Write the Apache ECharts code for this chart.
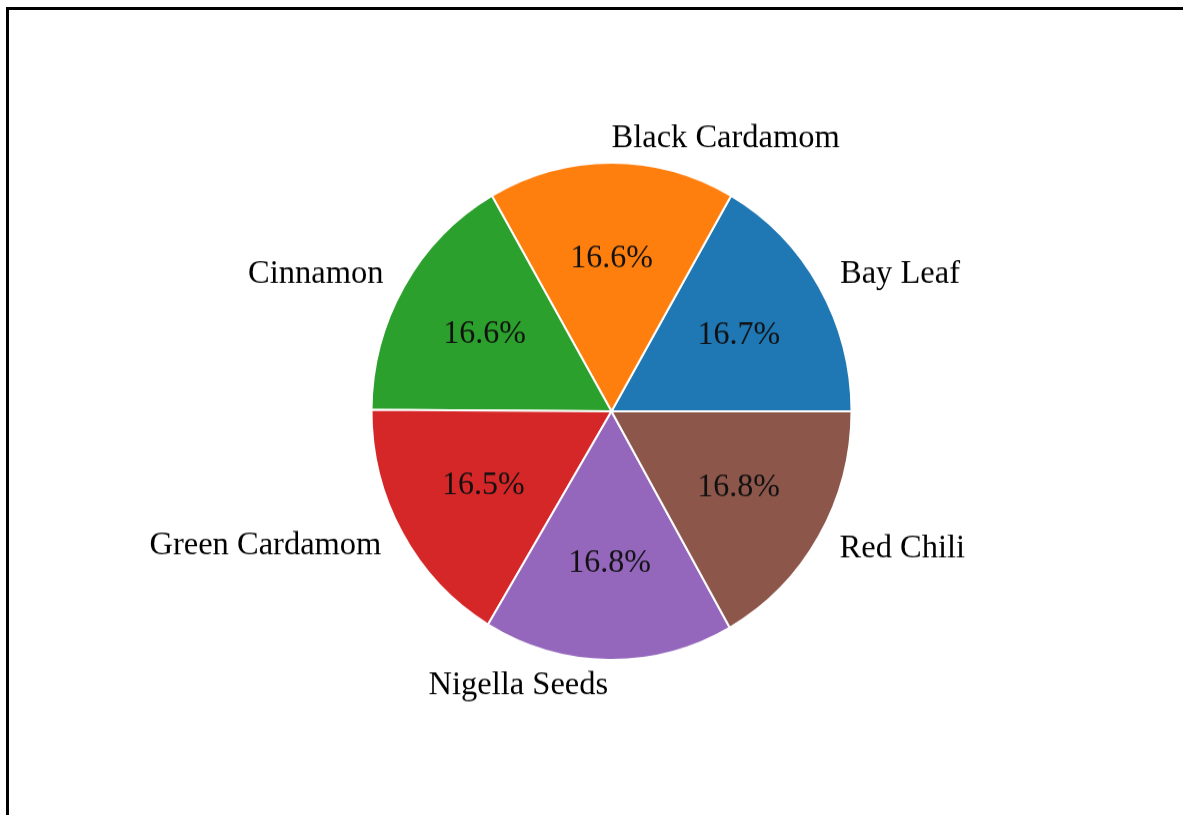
<!DOCTYPE html>
<html>
<head>
<meta charset="utf-8">
<script src="https://cdn.jsdelivr.net/npm/echarts@6/dist/echarts.min.js"></script>
<style>
  html, body { margin: 0; padding: 0; background: #fff; overflow: hidden; width: 1183px; height: 815px; }
  #frame {
    position: absolute; left: 6px; top: 7px; width: 1177px; height: 808px;
    border-left: 3px solid #000; border-top: 3px solid #000; box-sizing: border-box;
  }
  #chart {
    position: absolute; left: 0; top: 0; width: 1183px; height: 787px;
    transform: scaleY(1.036); transform-origin: 0 0;
  }
</style>
</head>
<body>
<div id="frame"></div>
<div id="chart"></div>
<script>
// Spice shares, drawn counter-clockwise from 3 o'clock
const categories = ['Bay Leaf', 'Black Cardamom', 'Cinnamon', 'Green Cardamom', 'Nigella Seeds', 'Red Chili'];
const shares = [16.7, 16.6, 16.6, 16.5, 16.8, 16.8];
const colors = ['#1f77b4', '#ff7f0e', '#2ca02c', '#d62728', '#9467bd', '#8c564b'];

const fontFamily = "'Liberation Serif', 'DejaVu Serif', 'Times New Roman', serif";
const center = [611.5, 397];
const R = 240;

const slices = categories.map((name, i) => ({ name, value: shares[i] }));

const chart = echarts.init(document.getElementById('chart'), null, { renderer: 'canvas' });
chart.setOption({
  animation: false,
  color: colors,
  series: [
    {
      // the wedges, with category names just outside the rim
      type: 'pie',
      center: center,
      radius: [0, R],
      startAngle: 0,
      clockwise: false,
      silent: true,
      avoidLabelOverlap: false,
      itemStyle: { borderColor: '#fff', borderWidth: 2 },
      label: {
        show: true,
        position: 'outside',
        formatter: '{b}',
        fontFamily: fontFamily,
        fontSize: 32.5,
        color: '#000',
        distanceToLabelLine: 0
      },
      labelLine: { show: false, length: R * 0.1, length2: 0 },
      // a wedge centred straight up starts its name at the anchor point
      labelLayout: p => (Math.abs(p.labelRect.x + p.labelRect.width - center[0]) < 2 && p.dataIndex === 1)
        ? { align: 'left' } : {},
      data: slices
    },
    {
      // transparent ring whose inside labels sit at 0.6 of the wedge radius
      type: 'pie',
      center: center,
      radius: [0, R * 1.2],
      startAngle: 0,
      clockwise: false,
      silent: true,
      z: 3,
      avoidLabelOverlap: false,
      itemStyle: { color: 'rgba(0,0,0,0)', borderWidth: 0 },
      label: {
        show: true,
        position: 'inside',
        formatter: p => p.value.toFixed(1) + '%',
        fontFamily: fontFamily,
        fontSize: 32,
        color: '#111'
      },
      labelLine: { show: false },
      data: slices
    }
  ]
});
</script>
</body>
</html>
